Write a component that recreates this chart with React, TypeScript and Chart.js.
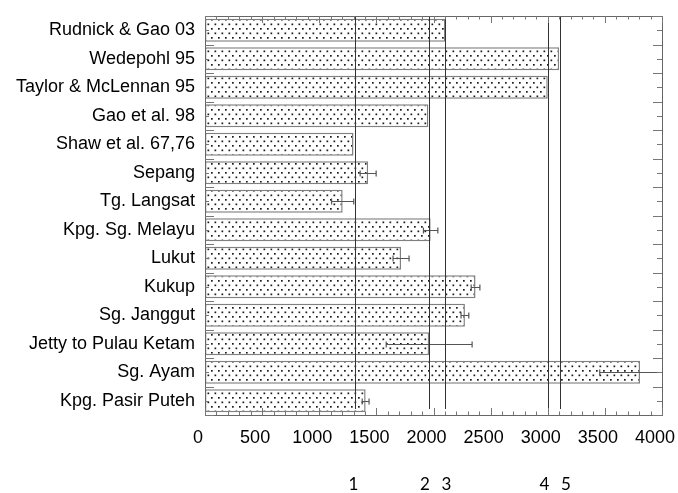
import { useEffect, useRef } from 'react';
import { Chart, registerables } from 'chart.js';

Chart.register(...registerables);

const categories = [
  'Rudnick & Gao 03',
  'Wedepohl 95',
  'Taylor & McLennan 95',
  'Gao et al. 98',
  'Shaw et al. 67,76',
  'Sepang',
  'Tg. Langsat',
  'Kpg. Sg. Melayu',
  'Lukut',
  'Kukup',
  'Sg. Janggut',
  'Jetty to Pulau Ketam',
  'Sg. Ayam',
  'Kpg. Pasir Puteh',
];
const values = [2105, 3100, 3000, 1955, 1300, 1428, 1205, 1975, 1716, 2368, 2275, 1962, 3808, 1406];
const errors = [0, 0, 0, 0, 0, 70, 97, 63, 70, 38, 34, 376, 353, 30];
const refLines = [1316, 1961, 2104, 3006, 3107];
const refLabels = ['1', '2', '3', '4', '5'];
const xMin = 0;
const xMax = 4000;
const xStep = 500;
const minorStep = 100;

function makePattern(): CanvasPattern | string {
  const c = document.createElement('canvas');
  c.width = 14;
  c.height = 9;
  const g = c.getContext('2d');
  if (!g) return '#fff';
  g.fillStyle = '#ffffff';
  g.fillRect(0, 0, 14, 9);
  g.fillStyle = '#1a1a1a';
  g.fillRect(1, 1, 1.7, 1.7);
  g.fillRect(8, 1, 1.7, 1.7);
  g.fillRect(4.5, 5.5, 1.7, 1.7);
  g.fillRect(11.5, 5.5, 1.7, 1.7);
  const p = g.createPattern(c, 'repeat');
  return p || '#fff';
}

const deco = {
  id: 'deco',
  afterDatasetsDraw(chart: any) {
    const { ctx, chartArea: a, scales } = chart;
    const x = scales.x;
    const y = scales.y;
    ctx.save();
    ctx.beginPath();
    ctx.rect(a.left, a.top, a.right - a.left, a.bottom - a.top);
    ctx.clip();
    // error bars
    ctx.strokeStyle = '#555';
    ctx.lineWidth = 1.2;
    values.forEach((v, i) => {
      const e = errors[i];
      if (!e) return;
      const yc = Math.round(y.getPixelForValue(i)) + 0.5;
      const x1 = x.getPixelForValue(v - e);
      const x2 = x.getPixelForValue(v + e);
      ctx.beginPath();
      ctx.moveTo(x1, yc);
      ctx.lineTo(x2, yc);
      ctx.moveTo(x1, yc - 3);
      ctx.lineTo(x1, yc + 3);
      ctx.moveTo(x2, yc - 3);
      ctx.lineTo(x2, yc + 3);
      ctx.stroke();
    });
    // reference lines
    ctx.strokeStyle = '#333';
    ctx.lineWidth = 1;
    refLines.forEach((v) => {
      const px = Math.round(x.getPixelForValue(v)) + 0.5;
      ctx.beginPath();
      ctx.moveTo(px, a.top);
      ctx.lineTo(px, a.bottom - 6);
      ctx.stroke();
    });
    ctx.restore();

    ctx.save();
    // frame
    ctx.strokeStyle = '#666';
    ctx.lineWidth = 1;
    ctx.strokeRect(Math.round(a.left) + 0.5, Math.round(a.top) + 0.5, Math.round(a.right - a.left), Math.round(a.bottom - a.top));
    // top/bottom ticks
    ctx.strokeStyle = '#777';
    ctx.beginPath();
    for (let v = xMin; v <= xMax; v += minorStep) {
      const px = Math.round(x.getPixelForValue(v)) + 0.5;
      const len = v % xStep === 0 ? 7 : 3.5;
      ctx.moveTo(px, a.top);
      ctx.lineTo(px, a.top + len);
      ctx.moveTo(px, a.bottom);
      ctx.lineTo(px, a.bottom - len);
    }
    // left/right ticks
    const n = categories.length;
    const h = (a.bottom - a.top) / n;
    for (let i = 0; i <= n; i++) {
      const yb = Math.round(a.top + i * h) + 0.5;
      ctx.moveTo(a.left, yb);
      ctx.lineTo(a.left + 9, yb);
      ctx.moveTo(a.right, yb);
      ctx.lineTo(a.right - 9, yb);
      if (i < n) {
        const yc = Math.round(a.top + (i + 0.5) * h) + 0.5;
        ctx.moveTo(a.left, yc);
        ctx.lineTo(a.left + 4, yc);
        ctx.moveTo(a.right, yc);
        ctx.lineTo(a.right - 5, yc);
      }
    }
    ctx.stroke();
    // reference numbers below the axis
    const nudge = [-2, -4, 1, -4, 6];
    ctx.fillStyle = '#000';
    ctx.font = '17px Lato';
    ctx.textAlign = 'center';
    ctx.textBaseline = 'middle';
    refLines.forEach((v, i) => {
      ctx.fillText(refLabels[i], x.getPixelForValue(v) + nudge[i], 485);
    });
    ctx.restore();
  },
};

export default function App() {
  const ref = useRef<HTMLCanvasElement>(null);
  useEffect(() => {
    document.body.style.margin = '0';
    const canvas = ref.current;
    if (!canvas) return;
    const pattern = makePattern();
    const chart = new Chart(canvas, {
      type: 'bar',
      data: {
        labels: categories,
        datasets: [
          {
            data: values,
            backgroundColor: pattern as any,
            borderColor: '#808080',
            borderWidth: 1.5,
            borderSkipped: false,
            categoryPercentage: 1,
            barPercentage: 0.8,
          },
        ],
      },
      options: {
        indexAxis: 'y',
        responsive: false,
        animation: false,
        events: [],
        layout: { padding: { top: 16, right: 16, bottom: 0, left: 0 } },
        plugins: { legend: { display: false }, tooltip: { enabled: false } },
        scales: {
          x: {
            type: 'linear',
            min: xMin,
            max: xMax,
            position: 'bottom',
            grid: { display: false, drawTicks: false },
            border: { display: false },
            ticks: {
              stepSize: xStep,
              color: '#000',
              font: { family: 'Liberation Sans', size: 18 },
              padding: 12,
              labelOffset: -7,
              maxRotation: 0,
              callback: (v: any) => String(v),
            },
            afterFit: (s: any) => {
              s.height = 78;
              s.paddingLeft = 0;
              s.paddingRight = 0;
            },
          },
          y: {
            type: 'category',
            grid: { display: false, drawTicks: false },
            border: { display: false },
            ticks: {
              color: '#000',
              font: { family: 'Liberation Sans', size: 18 },
              padding: 10,
              autoSkip: false,
            },
            afterFit: (s: any) => {
              s.width = 205;
              s.paddingTop = 0;
              s.paddingBottom = 0;
            },
          },
        },
      },
      plugins: [deco],
    });
    return () => chart.destroy();
  }, []);
  return (
    <div style={{ width: 678, height: 493, overflow: 'hidden' }}>
      <canvas ref={ref} width={678} height={493} style={{ display: 'block', width: 678, height: 493 }} />
    </div>
  );
}
